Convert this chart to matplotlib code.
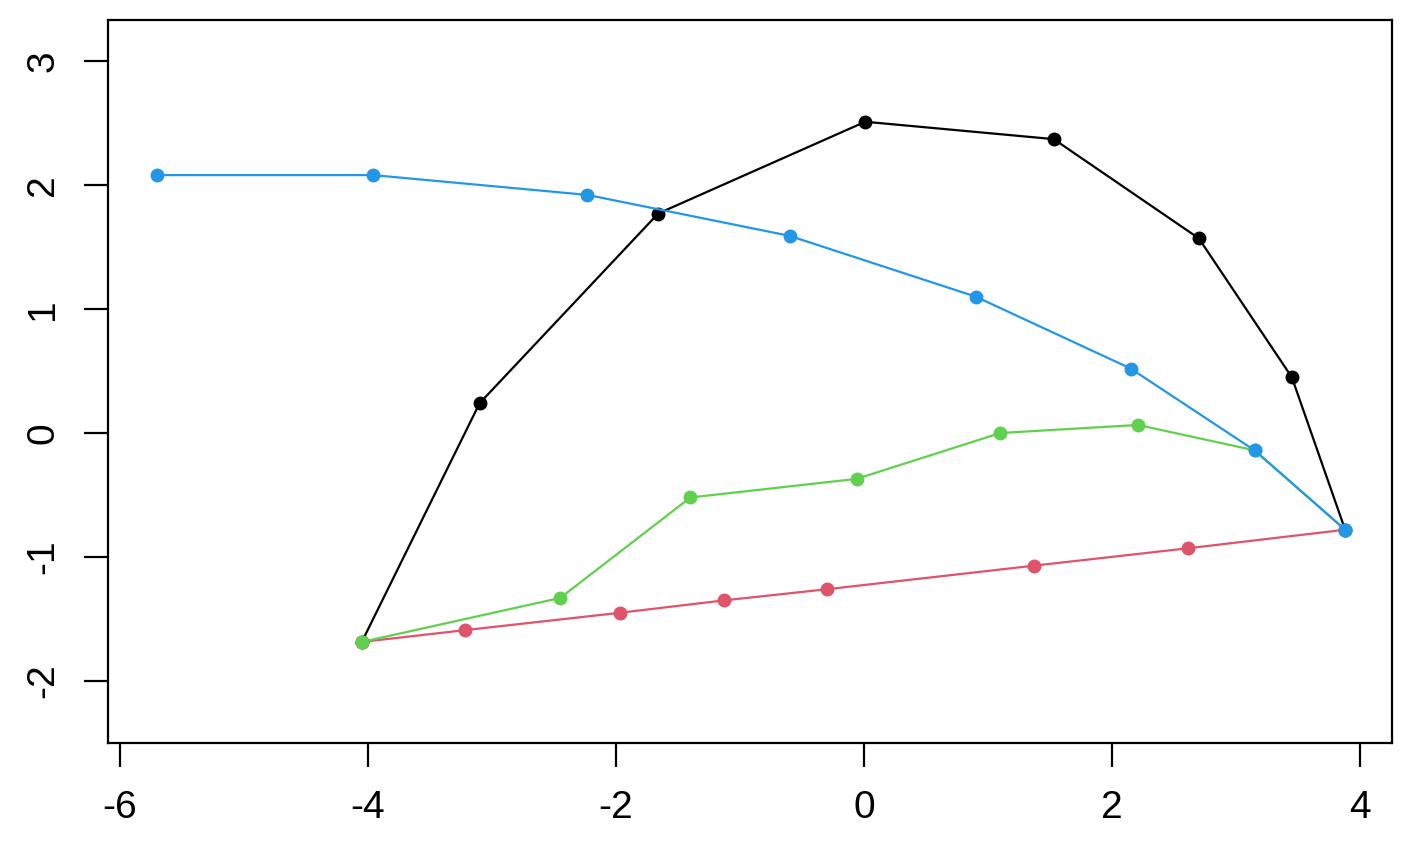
import matplotlib.pyplot as plt

# data
black_x = [-4.05, -3.10, -1.66, 0.01, 1.53, 2.70, 3.45, 3.88]
black_y = [-1.685, 0.24, 1.77, 2.51, 2.37, 1.57, 0.45, -0.78]

red_x = [-4.05, -3.22, -1.97, -1.13, -0.30, 1.37, 2.61, 3.88]
red_y = [-1.685, -1.59, -1.45, -1.35, -1.26, -1.07, -0.93, -0.78]

green_x = [-4.05, -2.45, -1.40, -0.06, 1.10, 2.21, 3.15, 3.88]
green_y = [-1.685, -1.33, -0.52, -0.37, 0.0, 0.065, -0.14, -0.78]

blue_x = [-5.70, -3.96, -2.23, -0.60, 0.90, 2.15, 3.15, 3.88]
blue_y = [2.08, 2.08, 1.92, 1.59, 1.10, 0.52, -0.14, -0.78]

x_ticks = [-6, -4, -2, 0, 2, 4]
y_ticks = [-2, -1, 0, 1, 2, 3]

plt.rcParams['font.family'] = ['Liberation Sans', 'DejaVu Sans']

fig = plt.figure(figsize=(14.22, 8.59), dpi=100)
W, H = 1422, 859
ax = fig.add_axes([108 / W, (H - 743) / H, (1392 - 108) / W, (743 - 20) / H])

series = [
    (black_x, black_y, '#000000'),
    (red_x, red_y, '#DF536B'),
    (green_x, green_y, '#61D04F'),
    (blue_x, blue_y, '#2297E6'),
]
for xs, ys, col in series:
    ax.plot(xs, ys, color=col, lw=1.6, marker='o', ms=9, mec=col, mfc=col)

ax.set_xlim((108 - 864) / 124, (1392 - 864) / 124)
ax.set_ylim((433 - 743) / 124, (433 - 20) / 124)

ax.set_xticks(x_ticks)
ax.set_yticks(y_ticks)
ax.set_xticklabels([str(t) for t in x_ticks])
ax.set_yticklabels([str(t) for t in y_ticks], rotation=90, va='center')

ax.tick_params(axis='both', direction='out', length=17.5, width=1.6,
               labelsize=28, pad=16, color='black')
for s in ax.spines.values():
    s.set_linewidth(1.6)

fig.savefig('out.png', dpi=100)
